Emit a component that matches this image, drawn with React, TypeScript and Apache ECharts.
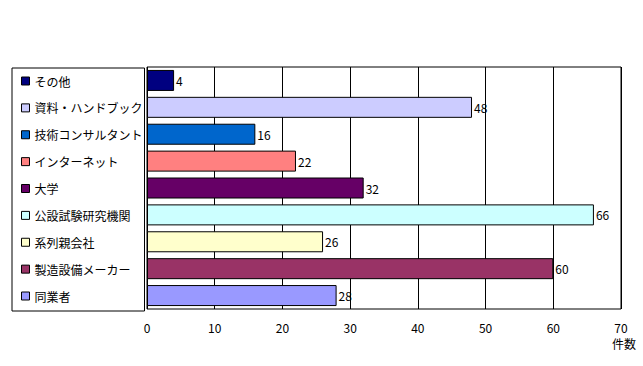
import React, { useEffect, useRef } from "react";
import * as echarts from "echarts";

const categories = [
  "その他",
  "資料・ハンドブック",
  "技術コンサルタント",
  "インターネット",
  "大学",
  "公設試験研究機関",
  "系列親会社",
  "製造設備メーカー",
  "同業者",
];
const values = [4, 48, 16, 22, 32, 66, 26, 60, 28];
const colors = [
  "#000080",
  "#CCCCFF",
  "#0066CC",
  "#FF8080",
  "#660066",
  "#CCFFFF",
  "#FFFFCC",
  "#993366",
  "#9999FF",
];
const xTicks = { min: 0, max: 70, interval: 10 };
const axisName = "件数";

export default function App() {
  const ref = useRef<HTMLDivElement>(null);
  useEffect(() => {
    if (!ref.current) return;
    const chart = echarts.init(ref.current, null, { renderer: "svg" });
    const font = "'MS PGothic', 'Noto Sans CJK JP', sans-serif";
    const series = categories.map((name, i) => ({
      name,
      type: "bar",
      barWidth: 21,
      barGap: "-100%",
      data: values.map((v, j) => (j === i ? v : null)),
      itemStyle: { color: colors[i], borderColor: "#000", borderWidth: 1 },
      label: {
        show: true,
        position: "right",
        distance: 2,
        color: "#000",
        fontSize: 12,
        fontFamily: font,
      },
    }));
    chart.setOption({
      animation: false,
      backgroundColor: "#fff",
      grid: {
        left: 147,
        right: 22,
        top: 67,
        bottom: 57,
        show: true,
        borderColor: "#000",
        borderWidth: 1,
        backgroundColor: "transparent",
      },
      legend: {
        orient: "vertical",
        left: 12,
        top: 68,
        data: categories,
        icon: "rect",
        itemWidth: 8,
        itemHeight: 8,
        itemGap: 14.875,
        padding: [7, 2, 9, 9],
        borderColor: "#000",
        borderWidth: 1,
        backgroundColor: "#fff",
        selectedMode: false,
        itemStyle: { borderColor: "#000", borderWidth: 1 },
        textStyle: { fontSize: 12, lineHeight: 12, color: "#000", fontFamily: font },
      },
      xAxis: {
        type: "value",
        min: xTicks.min,
        max: xTicks.max,
        interval: xTicks.interval,
        axisLine: { show: false },
        axisTick: { show: false },
        splitLine: { show: true, lineStyle: { color: "#000", width: 1 } },
        axisLabel: { color: "#000", fontSize: 12, margin: 12, fontFamily: font },
      },
      yAxis: {
        type: "category",
        data: categories,
        inverse: true,
        axisLine: { show: false },
        axisTick: { show: false },
        axisLabel: { show: false },
        splitLine: { show: false },
      },
      graphic: [
        {
          type: "text",
          right: 7,
          top: 337,
          style: { text: axisName, fontSize: 12, fill: "#000", fontFamily: font },
        },
      ],
      series,
    });
    return () => chart.dispose();
  }, []);
  return (
    <div
      ref={ref}
      style={{ position: "fixed", left: 0, top: 0, width: 643, height: 366 }}
    />
  );
}
